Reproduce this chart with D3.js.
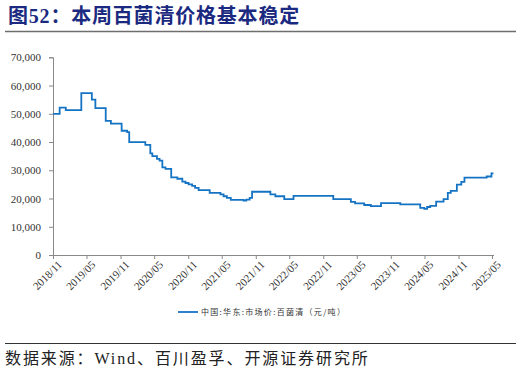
<!DOCTYPE html>
<html lang="zh">
<head>
    <meta charset="UTF-8">
    <title>本周百菌清价格基本稳定</title>
    <style>
        body {
            margin: 0;
            padding: 0;
            background: #fff;
        }
        svg {
            display: block;
        }
        .title {
            font-family: "Liberation Serif", "Noto Sans CJK SC", serif;
            font-size: 20px;
            font-weight: bold;
            fill: #1b2a80;
            letter-spacing: 0.8px;
        }
        .axis text {
            font-family: "Liberation Serif", "DejaVu Serif", serif;
            font-size: 11px;
            fill: #333;
        }
        .axis path, .axis line {
            stroke: #888;
        }
        .legend-text {
            font-family: "Noto Sans CJK SC", sans-serif;
            font-size: 8px;
            fill: #333;
            letter-spacing: 1.3px;
        }
        .source {
            font-family: "Liberation Serif", "Noto Sans CJK SC", serif;
            font-size: 16px;
            fill: #222;
            letter-spacing: 1.9px;
        }
    </style>
    <script src="https://d3js.org/d3.v7.min.js"></script>
</head>
<body>
    <svg id="chart" width="521" height="374"></svg>
    <script>
        // step dates (value holds from that date on) and prices, 元/吨
        const dates = [
            "2018-11-02", "2018-12-07", "2019-01-09", "2019-04-03", "2019-05-30", "2019-06-18",
            "2019-08-13", "2019-09-10", "2019-11-07", "2019-12-07", "2019-12-18", "2020-03-14",
            "2020-04-10", "2020-04-21", "2020-05-16", "2020-05-30", "2020-06-14", "2020-07-01",
            "2020-08-01", "2020-09-03", "2020-09-30", "2020-10-17", "2020-11-03", "2020-11-22",
            "2020-12-08", "2020-12-27", "2021-02-25", "2021-04-24", "2021-05-11", "2021-05-29",
            "2021-06-19", "2021-08-27", "2021-09-11", "2021-09-29", "2021-10-12", "2022-01-19",
            "2022-02-15", "2022-04-04", "2022-05-24", "2022-12-25", "2023-03-30", "2023-04-22",
            "2023-06-10", "2023-07-16", "2023-09-09", "2023-12-22", "2024-04-08", "2024-04-30",
            "2024-05-15", "2024-06-01", "2024-07-03", "2024-08-12", "2024-09-04", "2024-09-20",
            "2024-10-23", "2024-11-16", "2024-12-03", "2025-04-02", "2025-04-28", "2025-05-09"
        ];
        const prices = [
            50000, 52200, 51300, 57300, 55000, 52000,
            47500, 46500, 44000, 43500, 40000, 39000,
            36000, 35000, 34000, 33400, 31000, 30500,
            27500, 27000, 26000, 25500, 25000, 24500,
            23800, 23000, 22000, 21500, 20800, 20200,
            19500, 19300, 19600, 20200, 22400, 21500,
            20800, 19800, 20900, 19800, 18800, 18300,
            17700, 17300, 18400, 17900, 16700, 16300,
            17000, 17400, 18900, 19800, 22000, 22700,
            24900, 25900, 27400, 27800, 28900, 28900
        ];
        const yTicks = [0, 10000, 20000, 30000, 40000, 50000, 60000, 70000];
        const xTickLabels = ["2018/11", "2019/05", "2019/11", "2020/05", "2020/11", "2021/05", "2021/11",
            "2022/05", "2022/11", "2023/05", "2023/11", "2024/05", "2024/11", "2025/05"];
        const seriesName = "中国:华东:市场价:百菌清（元/吨）";

        const parse = d3.timeParse("%Y-%m-%d");
        const data = dates.map((d, i) => ({ date: parse(d), value: prices[i] }));
        const tickDates = xTickLabels.map(t => d3.timeParse("%Y/%m")(t));

        const svg = d3.select("#chart");
        const plotLeft = 53, plotRight = 493.5, plotTop = 57.3, plotBottom = 255;

        // title + rule
        svg.append("text")
            .attr("class", "title")
            .attr("x", 8)
            .attr("y", 23)
            .text("图52：本周百菌清价格基本稳定");

        svg.append("line")
            .attr("x1", 5).attr("x2", 516)
            .attr("y1", 31.5).attr("y2", 31.5)
            .attr("stroke", "#6e6e6e")
            .attr("stroke-width", 1.6);

        const x = d3.scaleTime()
            .domain([tickDates[0], parse("2025-05-09")])
            .range([plotLeft, plotRight]);

        const y = d3.scaleLinear()
            .domain([0, 70000])
            .range([plotBottom, plotTop]);

        svg.append("g")
            .attr("class", "axis y-axis")
            .attr("transform", `translate(${plotLeft},0)`)
            .call(d3.axisLeft(y).tickValues(yTicks).tickSize(4).tickPadding(8)
                .tickFormat(d3.format(",")));

        const xAxis = svg.append("g")
            .attr("class", "axis x-axis")
            .attr("transform", `translate(0,${plotBottom})`)
            .call(d3.axisBottom(x).tickValues(tickDates).tickSize(4).tickSizeOuter(0)
                .tickFormat(d3.timeFormat("%Y/%m")));

        xAxis.selectAll("text")
            .attr("text-anchor", "end")
            .attr("dx", "2px")
            .attr("dy", "4px")
            .attr("transform", "translate(0,4) rotate(-45)");

        const line = d3.line()
            .x(d => x(d.date))
            .y(d => y(d.value))
            .curve(d3.curveStepAfter);

        svg.append("path")
            .datum(data)
            .attr("fill", "none")
            .attr("stroke", "#1573c4")
            .attr("stroke-width", 1.8)
            .attr("d", line);

        // legend
        const legend = svg.append("g")
            .attr("transform", "translate(178,312)");

        legend.append("line")
            .attr("x1", 0).attr("x2", 20)
            .attr("stroke", "#1573c4")
            .attr("stroke-width", 1.8);

        legend.append("text")
            .attr("class", "legend-text")
            .attr("x", 23)
            .attr("y", 3)
            .text(seriesName);

        // source
        svg.append("line")
            .attr("x1", 5).attr("x2", 516)
            .attr("y1", 343.5).attr("y2", 343.5)
            .attr("stroke", "#333")
            .attr("stroke-width", 1.2);

        svg.append("text")
            .attr("class", "source")
            .attr("x", 5)
            .attr("y", 364)
            .text("数据来源：Wind、百川盈孚、开源证券研究所");
    </script>
</body>
</html>
